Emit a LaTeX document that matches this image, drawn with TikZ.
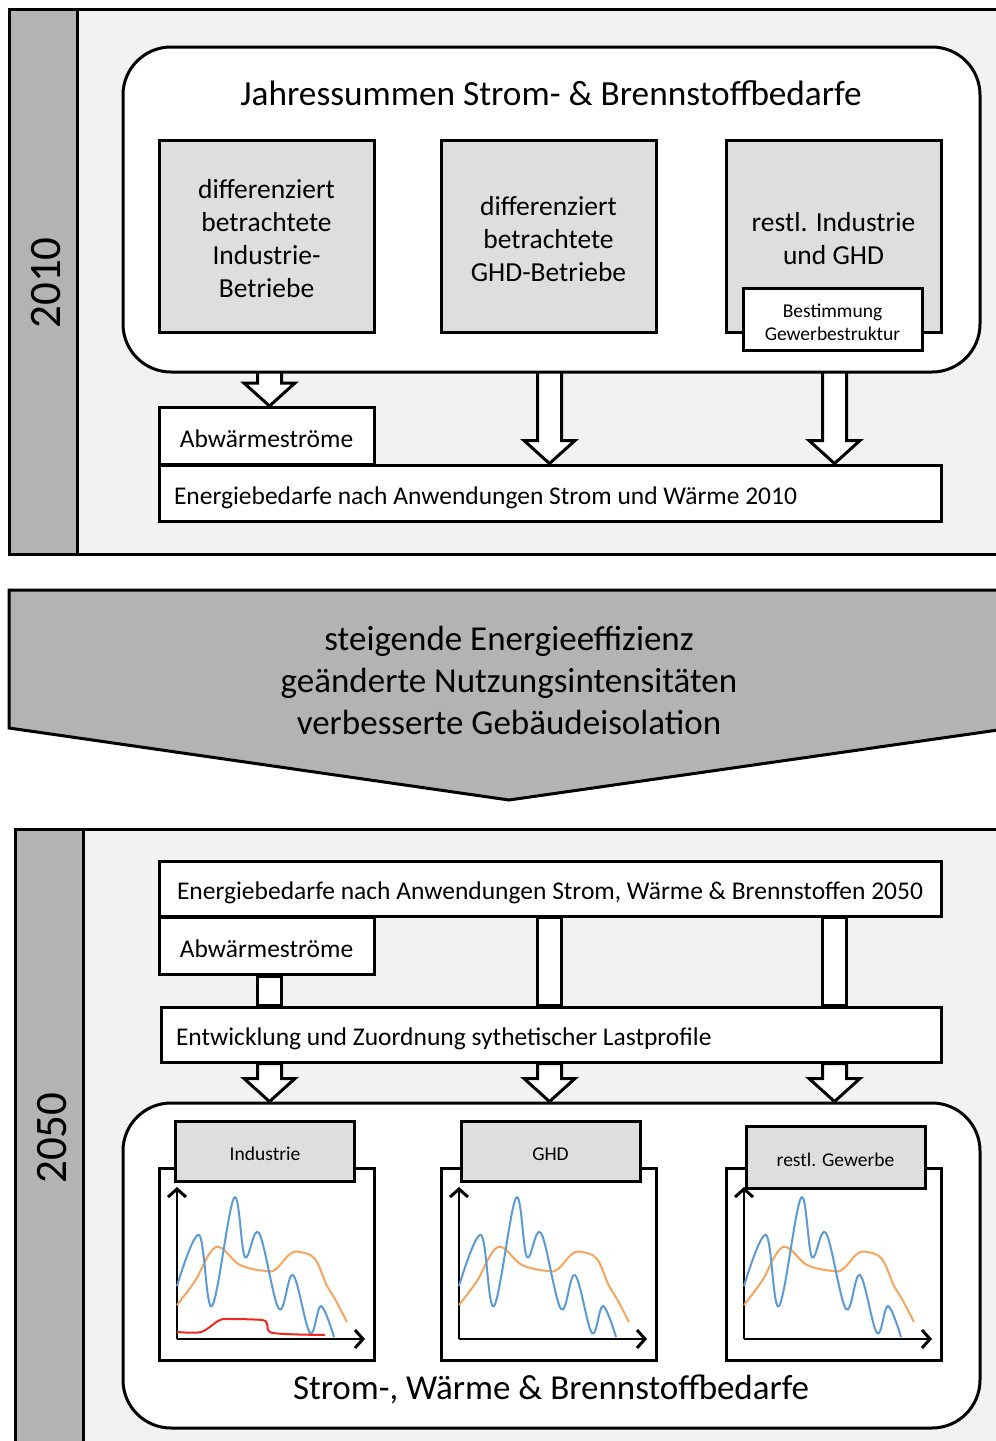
\documentclass[tikz,border=0pt]{standalone}
\usepackage{fontspec}
\setmainfont{Carlito}
\usetikzlibrary{calc,arrows.meta}

\definecolor{panelbg}{HTML}{F2F2F2}
\definecolor{bargray}{HTML}{B3B3B3}
\definecolor{boxgray}{HTML}{DEDEDE}
\definecolor{curveblue}{HTML}{5B9BD5}
\definecolor{curveorange}{HTML}{F6A55E}
\definecolor{curvered}{HTML}{F0281E}

\pgfdeclarelayer{back}
\pgfdeclarelayer{mid}
\pgfsetlayers{back,mid,main}

\tikzset{
  panel/.style={draw, line width=3pt, fill=panelbg},
  yearbar/.style={draw, line width=3pt, fill=bargray},
  yearlabel/.style={rotate=90, inner sep=0pt, font=\fontsize{45}{45}\selectfont},
  roundbox/.style={draw, line width=3pt, fill=white, rounded corners=48pt,
    minimum width=857pt, minimum height=325pt, inner sep=0pt},
  graybox/.style={draw, line width=3pt, fill=boxgray, minimum width=215pt,
    minimum height=192pt, inner sep=0pt},
  boxtext/.style={inner sep=0pt, align=center, font=\fontsize{27.5}{33}\selectfont},
  chartbox/.style={draw, line width=3pt, fill=white, minimum width=215pt,
    minimum height=192pt, inner sep=0pt},
  labelbox/.style={draw, line width=3pt, fill=boxgray, minimum width=179pt,
    minimum height=60pt, inner sep=0pt, text height=22pt, text depth=3pt,
    font=\fontsize{19.5}{23}\selectfont},
  smallbox/.style={draw, line width=3pt, fill=white, minimum width=179pt,
    minimum height=62pt, inner sep=0pt},
  smalltext/.style={inner sep=0pt, align=center, font=\fontsize{19.5}{23}\selectfont},
  whitebox/.style={draw, line width=3pt, fill=white, inner ysep=0pt,
    text height=27pt, text depth=5pt, font=\fontsize{25.5}{30}\selectfont},
  widebox/.style={whitebox, inner xsep=15pt, align=flush left, minimum height=56pt},
  abwbox/.style={whitebox, minimum width=215pt, minimum height=57pt, inner xsep=0pt},
  bigtext/.style={font=\fontsize{35}{42}\selectfont, align=center, inner sep=0pt},
  fatshaft/.style={draw, line width=3pt, fill=white, line join=miter},
  transition/.style={draw, line width=3pt, fill=bargray, line join=miter},
  axis/.style={line width=2pt, -{Straight Barb[length=8pt, width=18pt, line width=3pt]}},
  bluecurve/.style={draw=curveblue, line width=2pt},
  orangecurve/.style={draw=curveorange, line width=2pt},
  redcurve/.style={draw=curvered, line width=2pt},
  profile/.pic={
    \draw[axis] (0,0) -- (0,-152);
    \draw[axis] (0,0) -- (188,0);
    \draw[orangecurve] plot[smooth, tension=0.6] coordinates {
      (0,-34) (18,-58) (39,-92) (63,-74) (89,-68) (99,-70) (113,-85)
      (123,-87) (138,-80) (150,-53) (158,-40) (170,-17)};
    \draw[bluecurve] plot[smooth, tension=0.6] coordinates {
      (0,-53) (22,-104) (35,-33) (57,-141) (68,-82) (82,-106) (102,-30)
      (116,-64) (133,-6) (144,-33) (157,-2)};
  }
}

% block arrow from the top of its shaft (#1) down to its tip (#2)
\newcommand\blockdown[2]{%
  \draw[fatshaft] ($(#1)+(-12,0)$) -- ($(#2)+(-12,-23)$) -- ($(#2)+(-25.5,-23)$)
    -- (#2) -- ($(#2)+(25.5,-23)$) -- ($(#2)+(12,-23)$) -- ($(#1)+(12,0)$) -- cycle;}

\begin{document}
\begin{tikzpicture}[x=1pt, y=-1pt]
\useasboundingbox (0,0) rectangle (996,1441);
\clip (0,0) rectangle (996,1441);
\begin{pgfonlayer}{back}
  \fill[white] (0,0) rectangle (996,1441);
\end{pgfonlayer}

% ---------- 2010 ----------
\begin{pgfonlayer}{back}
  \draw[panel] (9,9) rectangle (1012,554);
  \draw[yearbar] (9,9) rectangle (77,554);
\end{pgfonlayer}
\node[yearlabel] (y2010) at (46,283) {2010};

\node[roundbox] (rtop) at (551.5,209.5) {};
\node[font=\fontsize{35.3}{42}\selectfont, anchor=base] (ttop) at (551,105)
  {Jahressummen Strom- \& Brennstoffbedarfe};

\node[graybox] (d1) at (266.5,236) {};
\node[graybox] (d2) at (548.5,236) {};
\node[graybox] (d3) at (833.5,236) {};
\node[boxtext] (d1t) at ($(d1.center)+(0,3)$) {differenziert\\betrachtete\\Industrie-\\Betriebe};
\node[boxtext] (d2t) at ($(d2.center)+(0,3)$) {differenziert\\betrachtete\\GHD-Betriebe};
\node[boxtext] (d3t) at ($(d3.center)+(0,3)$) {restl. Industrie\\und GHD};
\node[smallbox] (best) at (832.5,319) {};
\node[smalltext] (bestt) at ($(best.center)+(0,3)$) {Bestimmung\\Gewerbestruktur};

\node[widebox, text width=752pt] (en1) at (550,493)
  {Energiebedarfe nach Anwendungen Strom und Wärme 2010};
\node[abwbox, anchor=south] (abw1) at (266.5,466) {Abwärmeströme};

\coordinate (t1) at (269.5,368);
\coordinate (t2) at (549.5,368);
\coordinate (t3) at (834.5,368);
\coordinate (h1) at (t1 |- abw1.north);
\coordinate (h2) at (t2 |- en1.north);
\coordinate (h3) at (t3 |- en1.north);
\begin{pgfonlayer}{mid}
  \blockdown{t1}{h1}
  \blockdown{t2}{h2}
  \blockdown{t3}{h3}
\end{pgfonlayer}

% ---------- transition ----------
\draw[transition] (9,590) -- (1012,590) -- (1012,728) -- (509,800) -- (9,728) -- cycle;
\node[bigtext] (chg) at (509,680)
  {steigende Energieeffizienz\\geänderte Nutzungsintensitäten\\verbesserte Gebäudeisolation};

% ---------- 2050 ----------
\begin{pgfonlayer}{back}
  \draw[panel] (15,829) rectangle (1012,1460);
  \draw[yearbar] (15,829) rectangle (83,1460);
\end{pgfonlayer}
\node[yearlabel] (y2050) at (52,1138) {2050};

\node[whitebox, minimum width=782pt, minimum height=55pt] (en2) at (550,888.5)
  {Energiebedarfe nach Anwendungen Strom, Wärme \& Brennstoffen 2050};
\node[abwbox, anchor=north] (abw2) at (266.5,916) {Abwärmeströme};
\node[widebox, text width=750pt, minimum height=55pt] (ent) at (551,1034.5)
  {Entwicklung und Zuordnung sythetischer Lastprofile};

\coordinate (s1) at (t1 |- abw2.south);
\coordinate (s2) at (t2 |- en2.south);
\coordinate (s3) at (t3 |- en2.south);
\coordinate (e1) at (t1 |- ent.north);
\coordinate (e2) at (t2 |- ent.north);
\coordinate (e3) at (t3 |- ent.north);
\begin{pgfonlayer}{mid}
  \draw[fatshaft] ($(s1)+(-12,0)$) rectangle ($(e1)+(12,0)$);
  \draw[fatshaft] ($(s2)+(-12,0)$) rectangle ($(e2)+(12,0)$);
  \draw[fatshaft] ($(s3)+(-12,0)$) rectangle ($(e3)+(12,0)$);
\end{pgfonlayer}

\node[roundbox] (rbot) at (551.5,1265.5) {};
\coordinate (u1) at (t1 |- ent.south);
\coordinate (u2) at (t2 |- ent.south);
\coordinate (u3) at (t3 |- ent.south);
\coordinate (v1) at (t1 |- rbot.north);
\coordinate (v2) at (t2 |- rbot.north);
\coordinate (v3) at (t3 |- rbot.north);
\begin{pgfonlayer}{mid}
  \blockdown{u1}{v1}
  \blockdown{u2}{v2}
  \blockdown{u3}{v3}
\end{pgfonlayer}

\node[chartbox] (c1) at (266.5,1264) {};
\node[chartbox] (c2) at (548.5,1264) {};
\node[chartbox] (c3) at (833.5,1264) {};

\pic at (177,1339) {profile};
\pic at (459,1339) {profile};
\pic at (744,1339) {profile};
\draw[redcurve] plot[smooth, tension=0.5] coordinates {
  (177,1332) (201,1332) (218,1321) (227,1319) (262,1320) (267,1324)
  (273,1333) (325,1335)};

\node[labelbox] (l1) at (265,1151) {Industrie};
\node[labelbox] (l2) at (550.5,1151) {GHD};
\node[labelbox, minimum height=62pt] (l3) at (835.5,1157) {restl. Gewerbe};

\node[font=\fontsize{35}{42}\selectfont, anchor=base] (tbot) at (551,1399)
  {Strom-, Wärme \& Brennstoffbedarfe};
\end{tikzpicture}
\end{document}
